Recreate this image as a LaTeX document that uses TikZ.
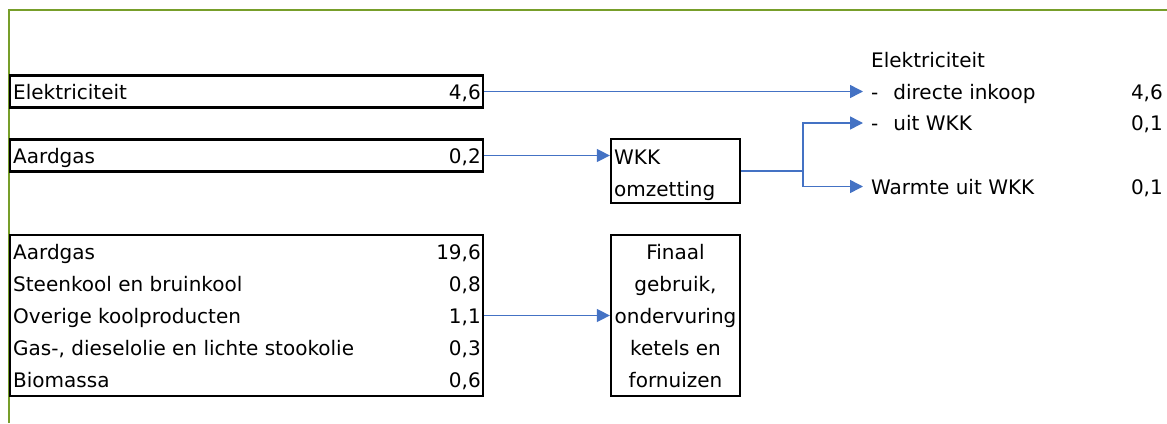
\documentclass[tikz,border=0pt]{standalone}
\usepackage{fontspec}
\setmainfont{DejaVu Sans}
\usetikzlibrary{arrows.meta,positioning,calc}
\definecolor{frameGreen}{RGB}{119,158,42}
\definecolor{flowBlue}{RGB}{68,114,196}
\tikzset{
  boxln/.style={draw=black, line width=2.3pt, inner sep=0pt},
  flowln/.style={-{Triangle[length=13pt,width=13pt]}, line width=1.5pt, flowBlue},
  plainflow/.style={line width=1.5pt, flowBlue},
  rowtxt/.style={font=\fontsize{20}{32}\selectfont, inner sep=0pt,
    text height=15pt, text depth=0pt},
}

\begin{document}
\begin{tikzpicture}[x=1pt,y=-1pt]
    \useasboundingbox (0,0) rectangle (1167,423);
    % frame
    \draw[frameGreen, line width=2.5pt] (9,423) -- (9,10) -- (1167,10);
    % left: inputs
    \node[boxln, minimum width=473pt, minimum height=32pt] (elecbox) at (246.5,91.5) {};
    \node[rowtxt, anchor=west] (elecname) at (13,91.5) {Elektriciteit};
    \node[rowtxt, anchor=east] (elecval) at (481,91.5) {4,6};
    \node[boxln, minimum width=473pt, minimum height=32pt] (gasbox) at (246.5,155.5) {};
    \node[rowtxt, anchor=west] (gasname) at (13,155.5) {Aardgas};
    \node[rowtxt, anchor=east] (gasval) at (481,155.5) {0,2};
    \node[boxln, minimum width=473pt, minimum height=161pt] (srcbox) at (246.5,315.5) {};
    \foreach \name/\val [count=\i] in {Aardgas/{19,6}, Steenkool en bruinkool/{0,8},
        Overige koolproducten/{1,1}, {Gas-, dieselolie en lichte stookolie}/{0,3},
        Biomassa/{0,6}} {
      \node[rowtxt, anchor=west] (src\i) at (13,220+32*\i) {\name};
      \node[rowtxt, anchor=east] (srcval\i) at (481,220+32*\i) {\val};
    }
    % middle: conversion
    \node[boxln, minimum width=129pt, minimum height=64pt] (wkkbox) at (675.5,171) {};
    \node[rowtxt, anchor=west] (wkktop) at (614,156.5) {WKK};
    \node[rowtxt, anchor=west] (wkkbot) at (614,189) {omzetting};
    \node[boxln, minimum width=129pt, minimum height=161pt] (finbox) at (675.5,315.5) {};
    \foreach \txt [count=\i] in {Finaal, {gebruik,}, ondervuring, ketels en, fornuizen} {
      \node[rowtxt] (fin\i) at (675.5,220+32*\i) {\txt};
    }
    % right: outputs
    \node[rowtxt, anchor=west] (header) at (871,60) {Elektriciteit};
    \node[rowtxt, anchor=west] (inkoop) at (871,91.5) {-\hspace{15pt}directe inkoop};
    \node[rowtxt, anchor=east] (inkoopval) at (1163,91.5) {4,6};
    \node[rowtxt, anchor=west] (uitwkk) at (871,123) {-\hspace{15pt}uit WKK};
    \node[rowtxt, anchor=east] (uitwkkval) at (1163,123) {0,1};
    \node[rowtxt, anchor=west] (warmte) at (871,186.5) {Warmte uit WKK};
    \node[rowtxt, anchor=east] (warmteval) at (1163,186.5) {0,1};
    % flows
    \draw[flowln] (elecbox.east) -- ([xshift=-8pt]inkoop.west);
    \draw[flowln] (gasbox.east) -- (gasbox.east -| wkkbox.west);
    \draw[flowln] (srcbox.east) -- (finbox.west);
    \coordinate (split) at (803,171);
    \draw[plainflow] (wkkbox.east) -- (split);
    \draw[flowln] (split) |- ([xshift=-8pt]uitwkk.west);
    \draw[flowln] (split) |- ([xshift=-8pt]warmte.west);
  \end{tikzpicture}
\end{document}
